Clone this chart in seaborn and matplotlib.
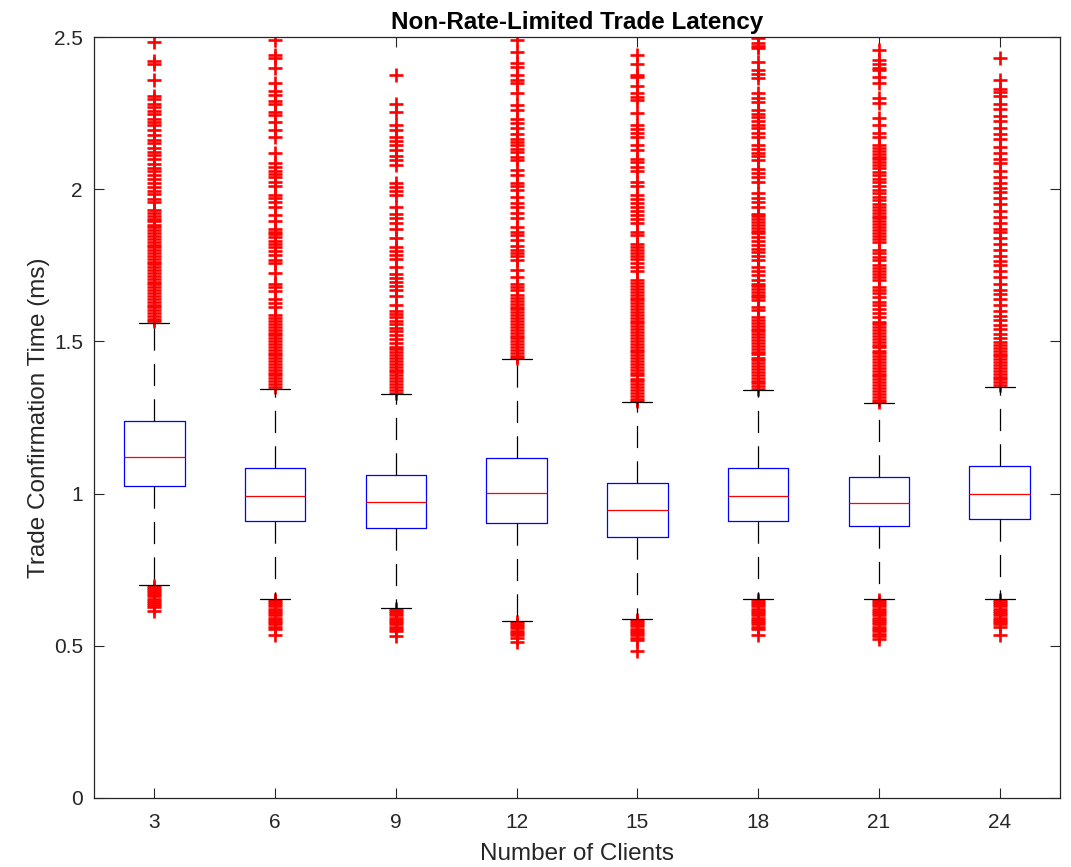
"""
Non-Rate-Limited Trade Latency - box plot per number of clients
"""

import numpy as np
import pandas as pd
import seaborn as sns
import matplotlib.pyplot as plt
from matplotlib.ticker import FuncFormatter

# Box statistics

clients = [3, 6, 9, 12, 15, 18, 21, 24]
q1 = [1.025, 0.911, 0.887, 0.903, 0.857, 0.911, 0.894, 0.917]
median = [1.121, 0.992, 0.972, 1.002, 0.945, 0.993, 0.969, 0.999]
q3 = [1.238, 1.085, 1.061, 1.118, 1.035, 1.085, 1.056, 1.090]
whisker_lo = [0.701, 0.654, 0.624, 0.581, 0.588, 0.654, 0.654, 0.654]
whisker_hi = [1.562, 1.345, 1.327, 1.442, 1.301, 1.341, 1.299, 1.350]

# Outliers (upper and lower) per group

out_3 = [2.483, 2.42, 2.41, 2.36, 2.305, 2.296, 2.281, 2.27, 2.258, 2.246, 2.232, 2.22,
         2.212, 2.193, 2.178, 2.163, 2.151, 2.134, 2.121, 2.112, 2.098, 2.084, 2.07, 2.061,
         2.048, 2.035, 2.021, 2.008, 1.994, 1.983, 1.967, 1.958,
         1.932, 1.922, 1.913, 1.903, 1.894, 1.884, 1.876, 1.865, 1.856, 1.847, 1.837, 1.828,
         1.818, 1.809, 1.8, 1.79, 1.781, 1.771, 1.762, 1.753, 1.743, 1.734, 1.725, 1.715,
         1.706, 1.696, 1.687, 1.678, 1.668, 1.659, 1.649, 1.64, 1.631, 1.621, 1.612, 1.603,
         1.593, 1.584, 1.574, 1.566,
         0.698, 0.691, 0.684, 0.676, 0.669, 0.662, 0.655, 0.648, 0.641, 0.635, 0.628, 0.614]

out_6 = [2.49, 2.44, 2.43, 2.397, 2.348, 2.322, 2.31, 2.29, 2.28, 2.255, 2.245, 2.22, 2.195,
         2.17, 2.12, 2.085, 2.073, 2.061, 2.05, 2.04, 2.025, 2.01, 1.98, 1.97, 1.958, 1.94,
         1.915, 1.894, 1.87, 1.861, 1.852, 1.843, 1.831, 1.82, 1.81, 1.796, 1.783, 1.768,
         1.756, 1.724, 1.69, 1.678, 1.664, 1.64, 1.627, 1.613,
         1.586, 1.577, 1.567, 1.558, 1.548, 1.539, 1.529, 1.52, 1.511, 1.501, 1.492, 1.482,
         1.473, 1.463, 1.454, 1.445, 1.435, 1.426, 1.416, 1.407, 1.397, 1.388, 1.379, 1.369,
         1.36, 1.351,
         0.652, 0.645, 0.637, 0.63, 0.622, 0.615, 0.607, 0.6, 0.592, 0.585, 0.577, 0.57,
         0.562, 0.555, 0.535]

out_9 = [2.375, 2.28, 2.255, 2.21, 2.195, 2.17, 2.16, 2.145, 2.13, 2.11, 2.096, 2.08, 2.02,
         2.008, 1.995, 1.98, 1.94, 1.92, 1.905, 1.89, 1.87, 1.84, 1.81, 1.797, 1.784, 1.77,
         1.745, 1.72, 1.708, 1.695, 1.683, 1.67, 1.65, 1.62, 1.6, 1.59, 1.58, 1.568, 1.556,
         1.545, 1.533, 1.52, 1.508, 1.495,
         1.483, 1.474, 1.464, 1.455, 1.445, 1.436, 1.426, 1.417, 1.407, 1.398, 1.388, 1.379,
         1.369, 1.36, 1.35, 1.341, 1.332,
         0.622, 0.615, 0.607, 0.6, 0.592, 0.585, 0.577, 0.57, 0.562, 0.555, 0.547, 0.532]

out_12 = [2.49, 2.452, 2.414, 2.403, 2.375, 2.36, 2.35, 2.315, 2.276, 2.26, 2.232, 2.216, 2.2,
          2.183, 2.166, 2.155, 2.144, 2.133, 2.123, 2.107, 2.096, 2.063, 2.047, 2.02, 2.009,
          1.998, 1.976, 1.954, 1.943, 1.922, 1.905, 1.877, 1.86, 1.848, 1.833, 1.812, 1.801,
          1.79, 1.779, 1.768, 1.735, 1.713, 1.69, 1.68, 1.67,
          1.652, 1.643, 1.633, 1.624, 1.614, 1.605, 1.595, 1.586, 1.576, 1.567, 1.557, 1.548,
          1.538, 1.529, 1.519, 1.51, 1.5, 1.491, 1.481, 1.472, 1.462, 1.453, 1.444,
          0.579, 0.572, 0.564, 0.557, 0.549, 0.542, 0.534, 0.527, 0.513]

out_15 = [2.44, 2.41, 2.375, 2.368, 2.34, 2.315, 2.304, 2.293, 2.25, 2.21, 2.198, 2.185, 2.172,
          2.145, 2.13, 2.1, 2.088, 2.074, 2.06, 2.025, 2.01, 1.98, 1.968, 1.955, 1.942, 1.93,
          1.915, 1.902, 1.89, 1.86, 1.85, 1.82, 1.81, 1.8, 1.79, 1.78, 1.77, 1.757, 1.743, 1.73,
          1.701, 1.692, 1.682, 1.673, 1.663, 1.654, 1.644, 1.635, 1.625, 1.616, 1.606, 1.597,
          1.587, 1.578, 1.568, 1.559, 1.549, 1.54, 1.53, 1.521, 1.511, 1.502, 1.492, 1.483,
          1.473, 1.464, 1.454, 1.445, 1.435, 1.426, 1.416, 1.407, 1.397, 1.388, 1.378, 1.369,
          1.359, 1.35, 1.34, 1.331, 1.321, 1.312, 1.304,
          0.586, 0.579, 0.571, 0.564, 0.556, 0.549, 0.541, 0.534, 0.526, 0.519, 0.483]

out_18 = [2.496, 2.479, 2.471, 2.463, 2.419, 2.392, 2.378, 2.364, 2.315, 2.301, 2.288, 2.26,
          2.248, 2.236, 2.224, 2.212, 2.2, 2.185, 2.17, 2.145, 2.133, 2.12, 2.108, 2.096, 2.068,
          2.054, 2.04, 2.025, 1.986, 1.972, 1.958, 1.943, 1.92, 1.911, 1.901, 1.892, 1.883,
          1.873, 1.864, 1.855, 1.844, 1.83, 1.817, 1.805, 1.793, 1.78, 1.768, 1.746, 1.731,
          1.717, 1.702, 1.69, 1.681, 1.672, 1.663, 1.654, 1.645, 1.636, 1.614, 1.603,
          1.58, 1.571, 1.561, 1.552, 1.542, 1.533, 1.523, 1.514, 1.504, 1.495, 1.485, 1.476,
          1.466, 1.457, 1.447, 1.438, 1.428, 1.419, 1.409, 1.4, 1.39, 1.381, 1.371, 1.362,
          1.352, 1.343,
          0.652, 0.645, 0.637, 0.63, 0.622, 0.615, 0.607, 0.6, 0.592, 0.585, 0.577, 0.57,
          0.562, 0.555, 0.535]

out_21 = [2.457, 2.424, 2.413, 2.397, 2.392, 2.37, 2.348, 2.299, 2.282, 2.233, 2.211, 2.184,
          2.173,
          2.145, 2.136, 2.126, 2.117, 2.107, 2.098, 2.088, 2.079, 2.069, 2.058, 2.047, 2.035,
          2.023, 2.011, 1.999, 1.987, 1.975, 1.963, 1.951, 1.943, 1.932, 1.923, 1.913, 1.904,
          1.894, 1.885, 1.875, 1.866, 1.856, 1.847, 1.837, 1.828, 1.8, 1.789, 1.778, 1.768,
          1.75, 1.741, 1.731, 1.722, 1.712, 1.703, 1.68, 1.669, 1.658, 1.647, 1.63, 1.618,
          1.605, 1.592, 1.58,
          1.565, 1.556, 1.546, 1.537, 1.527, 1.518, 1.508, 1.499, 1.489, 1.48, 1.47, 1.461,
          1.451, 1.442, 1.432, 1.423, 1.413, 1.404, 1.394, 1.385, 1.375, 1.366, 1.356, 1.347,
          1.337, 1.328, 1.318, 1.309, 1.301,
          0.652, 0.645, 0.637, 0.63, 0.622, 0.615, 0.607, 0.6, 0.592, 0.585, 0.577, 0.57,
          0.562, 0.555, 0.547, 0.54, 0.532, 0.522]

out_24 = [2.43, 2.36, 2.33, 2.318, 2.305, 2.28, 2.265, 2.24, 2.225, 2.2, 2.18, 2.165, 2.14,
          2.12, 2.1, 2.085, 2.06, 2.04, 2.02, 2.005, 1.99, 1.97, 1.95, 1.93, 1.91, 1.89, 1.87,
          1.86, 1.84, 1.82, 1.8, 1.78, 1.765, 1.75, 1.73, 1.71, 1.69, 1.67, 1.655, 1.64, 1.62,
          1.6, 1.585, 1.57, 1.555, 1.54, 1.525, 1.51,
          1.498, 1.489, 1.479, 1.47, 1.46, 1.451, 1.441, 1.432, 1.422, 1.413, 1.403, 1.394,
          1.384, 1.375, 1.365, 1.356,
          0.652, 0.645, 0.637, 0.63, 0.622, 0.615, 0.607, 0.6, 0.592, 0.585, 0.577, 0.57,
          0.562, 0.535]

out_lists = [out_3, out_6, out_9, out_12, out_15, out_18, out_21, out_24]

df = pd.DataFrame({
    'Clients': np.repeat(clients, [len(o) for o in out_lists]),
    'Time': np.concatenate(out_lists),
})

# Style

sns.set_style('white')
plt.rcParams['font.family'] = ['Liberation Sans', 'DejaVu Sans']
plt.rcParams['lines.scale_dashes'] = False
AX_COLOR = '#262626'

fig, ax = plt.subplots(figsize=(10.71, 8.67), dpi=100)
fig.subplots_adjust(left=0.0878, right=0.9897, top=0.9573, bottom=0.0796)

# Outliers as red plus signs
sns.stripplot(data=df, x='Clients', y='Time', order=clients, jitter=False,
              marker='+', color='red', size=10, ax=ax, zorder=2)
for coll in ax.collections:
    coll.set_linewidth(1.9)

# Boxes from the read statistics
stats = [dict(med=m, q1=a, q3=b, whislo=lo, whishi=hi, fliers=[])
         for m, a, b, lo, hi in zip(median, q1, q3, whisker_lo, whisker_hi)]
ax.bxp(stats, positions=range(len(clients)), widths=0.5, capwidths=0.25,
       showfliers=False, manage_ticks=False,
       boxprops=dict(color='blue', linewidth=0.9),
       medianprops=dict(color='red', linewidth=0.9),
       whiskerprops=dict(color='black', linewidth=0.9, linestyle=(0, (16, 9.5))),
       capprops=dict(color='black', linewidth=0.9))

ax.set_xlim(-0.5, len(clients) - 0.5)
ax.set_ylim(0, 2.5)
ax.set_yticks([0, 0.5, 1, 1.5, 2, 2.5])
ax.yaxis.set_major_formatter(FuncFormatter(lambda v, p: f'{v:g}'))
ax.set_xticks(range(len(clients)))
ax.set_xticklabels([str(c) for c in clients])

ax.tick_params(direction='in', left=True, bottom=True, top=True, right=True,
               length=7, width=0.8, labelsize=15, colors=AX_COLOR)
ax.tick_params(axis='x', pad=11)
ax.tick_params(axis='y', pad=8)
for s in ax.spines.values():
    s.set_color(AX_COLOR)
    s.set_linewidth(0.9)

ax.set_xlabel('Number of Clients', fontsize=17.5, color=AX_COLOR, labelpad=8)
ax.set_ylabel('Trade Confirmation Time (ms)', fontsize=17.5, color=AX_COLOR, labelpad=3)
ax.set_title('Non-Rate-Limited Trade Latency', fontsize=17.5, fontweight='bold',
             color='black', pad=6)

plt.savefig('out.png', dpi=100)
